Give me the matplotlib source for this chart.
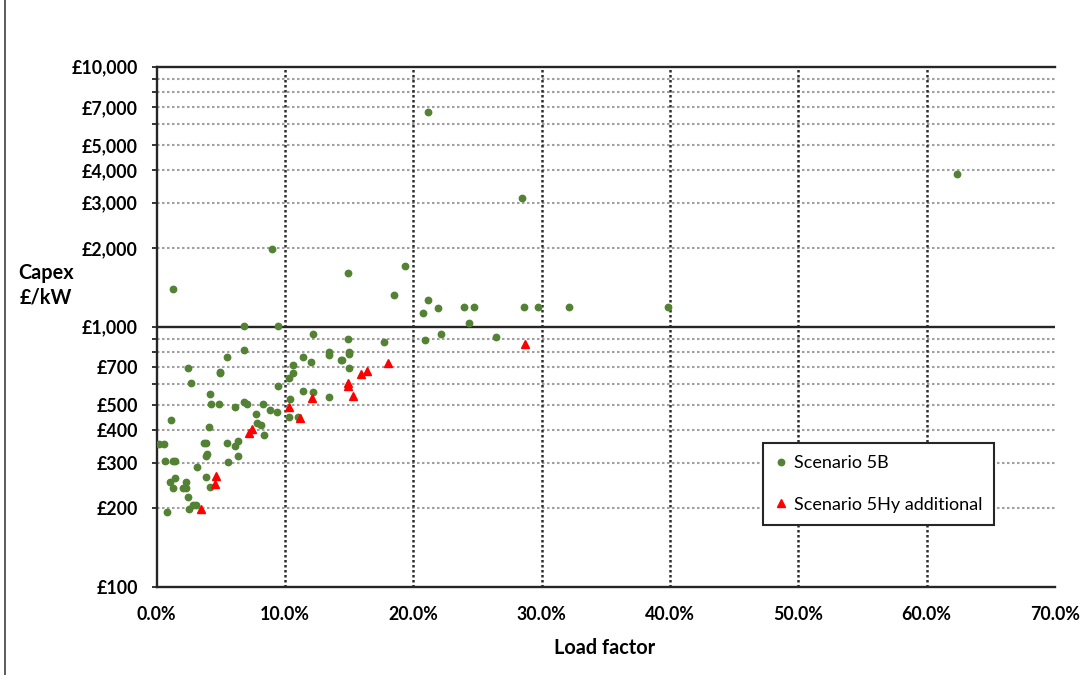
import matplotlib
matplotlib.use("Agg")
import matplotlib.pyplot as plt
from matplotlib.lines import Line2D
from matplotlib.ticker import FixedLocator, FuncFormatter, NullLocator

plt.rcParams["font.family"] = ["Lato", "DejaVu Sans"]

# Scenario 5B: load factor (%) and capex (GBP/kW)
load_5b = [
    4.21, 4.83, 6.10, 6.84, 7.00, 8.25, 8.85, 9.38, 7.74, 1.15,
    4.08, 7.84, 8.11, 8.36, 0.18, 0.55, 3.71, 3.82, 5.46, 6.34,
    6.10, 3.92, 3.82, 6.36, 0.62, 1.27, 1.43, 5.58, 3.16, 1.43,
    1.01, 2.28, 4.15, 1.27, 2.03, 2.28, 2.42, 2.81, 3.06, 2.54,
    0.78, 6.84, 9.48, 6.84, 5.48, 2.44, 4.93, 4.96, 2.67, 9.49,
    4.18, 12.16, 14.93, 17.72, 11.40, 12.03, 13.43, 13.43, 14.96, 14.96,
    14.34, 14.44, 10.62, 10.62, 10.29, 14.96, 11.40, 12.16, 13.43, 10.41,
    10.29, 11.01, 19.38, 21.15, 20.76, 21.90, 23.93, 24.71, 24.32, 28.65,
    29.74, 32.14, 39.88, 20.89, 22.16, 26.47, 21.15, 28.50, 62.40, 9.01,
    14.93, 1.27, 18.50, 3.88,
]
capex_5b = [
    504, 504, 492, 515, 504, 504, 477, 470, 463, 438,
    413, 425, 419, 384, 354, 354, 358, 358, 358, 362,
    348, 323, 318, 319, 305, 305, 305, 301, 288, 261,
    253, 253, 241, 239, 239, 239, 222, 207, 207, 199,
    193, 1005, 1005, 810, 765, 692, 671, 662, 609, 591,
    550, 937, 894, 873, 767, 734, 799, 776, 799, 787,
    745, 745, 712, 662, 635, 692, 566, 559, 535, 527,
    450, 450, 1712, 1264, 1129, 1177, 1194, 1194, 1036, 1194,
    1194, 1194, 1194, 887, 937, 910, 6677, 3126, 3877, 1995,
    1613, 1396, 1324, 264,
]

# Scenario 5Hy additional
load_5hy = [3.48, 4.52, 4.60, 7.19, 7.40, 10.34, 11.19, 12.08, 14.89, 14.89,
            15.28, 15.90, 16.41, 18.04, 28.68]
capex_5hy = [199, 248, 267, 391, 403, 492, 447, 530, 609, 591,
             543, 658, 677, 728, 860]

x_ticks = [0.0, 10.0, 20.0, 30.0, 40.0, 50.0, 60.0, 70.0]
y_ticks = [100, 200, 300, 400, 500, 600, 700, 800, 900,
           1000, 2000, 3000, 4000, 5000, 6000, 7000, 8000, 9000, 10000]
y_labelled = [100, 200, 300, 400, 500, 700, 1000, 2000, 3000, 4000, 5000, 7000, 10000]

GREEN = "#548235"
RED = "#FF0000"
AXIS = "#262626"

fig = plt.figure(figsize=(10.86, 6.75), dpi=100)
ax = fig.add_axes([0.1443, 0.1308, 0.8271, 0.7704])

# horizontal dotted grid (skip the solid 1000 line and the frame edges)
for v in y_ticks:
    if v in (100, 1000, 10000):
        continue
    ax.axhline(v, color="#A0A0A0", lw=1.5, ls=(0, (1.2, 1.2)), zorder=1)
ax.axhline(1000, color=AXIS, lw=1.7, zorder=2)
for xv in x_ticks[1:-1]:
    ax.axvline(xv, color="#2E2E2E", lw=1.8, ls=(0, (1.0, 1.0)), zorder=1)

ax.plot(load_5b, capex_5b, ls="none", marker="o", ms=4.6, color=GREEN,
        mec=GREEN, zorder=3)
ax.plot(load_5hy, capex_5hy, ls="none", marker="^", ms=6.2, color=RED,
        mec=RED, zorder=4)

ax.set_yscale("log")
ax.set_xlim(0, 70)
ax.set_ylim(100, 10000)

ax.xaxis.set_major_locator(FixedLocator(x_ticks))
ax.xaxis.set_minor_locator(NullLocator())
ax.xaxis.set_major_formatter(FuncFormatter(lambda v, _: f"{v:.1f}%"))
ax.yaxis.set_major_locator(FixedLocator(y_ticks))
ax.yaxis.set_minor_locator(NullLocator())
ax.yaxis.set_major_formatter(
    FuncFormatter(lambda v, _: f"£{int(round(v)):,}" if int(round(v)) in y_labelled else ""))

ax.tick_params(axis="y", length=3.6, width=1.3, color=AXIS, pad=10,
               labelsize=12.8)
ax.tick_params(axis="x", length=0, pad=14, labelsize=12.8)
for lab in ax.get_xticklabels() + ax.get_yticklabels():
    lab.set_fontweight("bold")

for side in ("left", "bottom", "top"):
    ax.spines[side].set_color(AXIS)
    ax.spines[side].set_linewidth(1.7)
ax.spines["right"].set_visible(False)

fig.text(46 / 1086, 1 - 285 / 675, "Capex\n£/kW", ha="center", va="center",
         fontsize=14.3, fontweight="bold", linespacing=1.3)
fig.text(605 / 1086, 1 - 648 / 675, "Load factor", ha="center", va="center",
         fontsize=14.3, fontweight="bold")

handles = [
    Line2D([], [], ls="none", marker="o", ms=4.6, color=GREEN, label="Scenario 5B"),
    Line2D([], [], ls="none", marker="^", ms=6.2, color=RED, label="Scenario 5Hy additional"),
]
leg = ax.legend(handles=handles, loc="upper left",
                bbox_to_anchor=(763 / 1086, 1 - 443 / 675),
                bbox_transform=fig.transFigure, frameon=True, fancybox=False,
                edgecolor=AXIS, framealpha=1, fontsize=13, handlelength=0.66,
                handletextpad=0.35, labelspacing=1.4, borderpad=0.68,
                borderaxespad=0)
leg.get_frame().set_linewidth(1.5)

# outer chart border on the left edge
fig.add_artist(Line2D([5 / 1086, 5 / 1086], [0, 1], transform=fig.transFigure,
                      color="#404040", lw=1.2))

fig.savefig("out.png", dpi=100)
